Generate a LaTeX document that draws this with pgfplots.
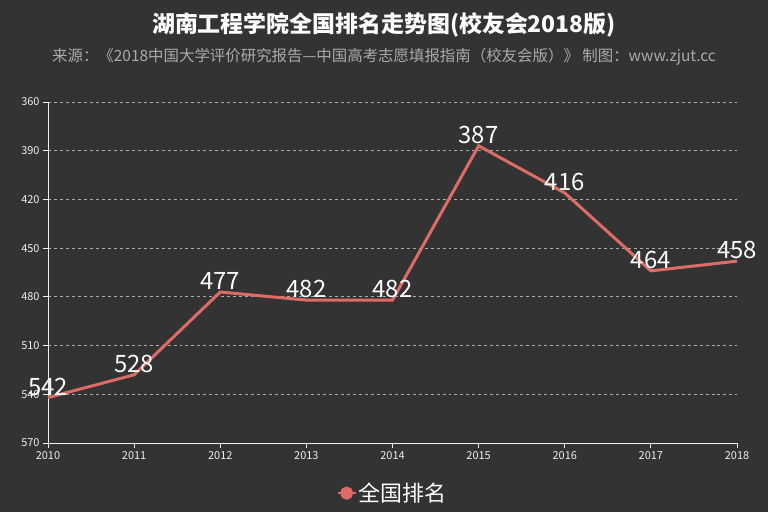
\documentclass[border=0pt]{standalone}
\usepackage{fontspec}
\setmainfont{Noto Sans CJK SC}
\usepackage{pgfplots}
\pgfplotsset{compat=1.18}
\definecolor{bg}{HTML}{333333}
\definecolor{linec}{HTML}{DD6B66}
\definecolor{axc}{HTML}{EEEEEE}
\definecolor{gridc}{HTML}{AAAAAA}
\definecolor{subc}{HTML}{AAAAAA}
\begin{document}
\begin{tikzpicture}
\fill[bg] (0bp,0bp) rectangle (768bp,512bp);
\node[font=\fontsize{23}{26}\selectfont\bfseries, text=white] at (384bp,487bp) {湖南工程学院全国排名走势图(校友会2018版)};
\node[font=\fontsize{15.5}{18}\selectfont, text=subc] at (384bp,455bp) {来源：《2018中国大学评价研究报告—中国高考志愿填报指南（校友会版）》 制图：www.zjut.cc};
\begin{axis}[
  at={(48bp,69bp)}, anchor=south west,
  width=689bp, height=341bp, scale only axis,
  /pgf/number format/assume math mode=true,
  xmin=2010, xmax=2018, ymin=360, ymax=570,
  y dir=reverse,
  xtick={2010,2011,2012,2013,2014,2015,2016,2017,2018},
  xticklabels={2010,2011,2012,2013,2014,2015,2016,2017,2018},
  ytick={360,390,420,450,480,510,540,570},
  yticklabels={360,390,420,450,480,510,540,570},
  ymajorgrids,
  major grid style={dashed, color=gridc, line width=0.8bp},
  axis line style={draw=none},
  tick align=outside,
  major tick length=5bp,
  tick style={color=axc, line width=1bp},
  xtick pos=bottom, ytick pos=left,
  ticklabel style={font=\fontsize{11}{13}\selectfont, text=axc},
  clip=false,
  legend style={at={(0.5,-0.147)}, anchor=center, draw=none, fill=none,
    text=white, font=\fontsize{22}{26}\selectfont},
  legend image code/.code={
    \draw[linec, line width=2bp] (0bp,0bp) -- (18bp,0bp);
    \fill[linec] (9bp,0bp) circle (5bp);
  },
  nodes near coords,
  point meta=y,
  every node near coord/.append style={font=\fontsize{24}{28}\selectfont, text=white, anchor=south, inner sep=0.5bp},
]
\draw[axc, line width=1bp] (axis description cs:0,1) -- (axis description cs:0,0) -- (axis description cs:1,0);
\addplot[linec, line width=3bp, mark=none] coordinates {
  (2010,542) (2011,528) (2012,477) (2013,482) (2014,482)
  (2015,387) (2016,416) (2017,464) (2018,458)
};
\addlegendentry{全国排名}
\end{axis}
\end{tikzpicture}
\end{document}
